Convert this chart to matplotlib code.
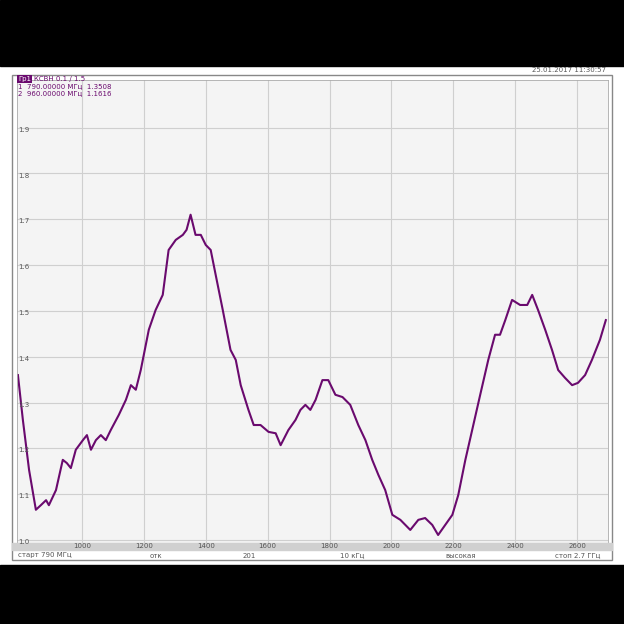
import matplotlib
matplotlib.use("Agg")
import matplotlib.pyplot as plt
from matplotlib.patches import Rectangle

freq = [793,809,829,851,867,884,893,916,938,951,964,980,1003,1016,1029,1045,1061,1077,1093,1119,1142,1158,1174,1190,1216,1238,1261,1280,1303,1326,1338,1351,1367,1384,1400,1416,1432,1455,1480,1497,1513,1538,1555,1577,1603,1626,1642,1667,1690,1706,1722,1738,1755,1777,1796,1819,1842,1867,1893,1916,1938,1958,1980,2003,2029,2061,2087,2109,2132,2151,2174,2197,2216,2239,2261,2287,2313,2335,2351,2368,2390,2416,2439,2455,2474,2497,2519,2539,2561,2584,2603,2626,2648,2674,2693]
vswr = [1.360,1.262,1.153,1.066,1.076,1.087,1.076,1.109,1.175,1.168,1.157,1.197,1.218,1.229,1.197,1.218,1.229,1.218,1.240,1.273,1.306,1.338,1.328,1.371,1.459,1.502,1.535,1.633,1.655,1.666,1.677,1.710,1.666,1.666,1.644,1.633,1.579,1.502,1.415,1.393,1.338,1.284,1.251,1.251,1.236,1.233,1.207,1.240,1.262,1.284,1.295,1.284,1.306,1.349,1.349,1.317,1.312,1.295,1.251,1.218,1.175,1.142,1.109,1.055,1.044,1.022,1.044,1.048,1.033,1.011,1.033,1.055,1.098,1.175,1.240,1.317,1.393,1.448,1.448,1.480,1.524,1.513,1.513,1.535,1.502,1.459,1.415,1.371,1.354,1.338,1.343,1.360,1.393,1.437,1.480]
yticks = [1.0,1.1,1.2,1.3,1.4,1.5,1.6,1.7,1.8,1.9]
xticks = [1000,1200,1400,1600,1800,2000,2200,2400,2600]
purple = "#6a0a6e"

fig = plt.figure(figsize=(6.24,6.24), dpi=100)
fig.patch.set_facecolor("white")
H = 624
def fy(p): return 1 - p/H
fig.patches.append(Rectangle((0, fy(66)), 1, 66/H, transform=fig.transFigure, color="black", zorder=0))
fig.patches.append(Rectangle((0, 0), 1, fy(565), transform=fig.transFigure, color="black", zorder=0))
fig.patches.append(Rectangle((12/H, fy(560)), 600/H, 485/H, transform=fig.transFigure, fill=False, ec="#888888", lw=1))
fig.patches.append(Rectangle((12/H, fy(550)), 600/H, 7/H, transform=fig.transFigure, color="#d0d0d0", zorder=1))

ax = fig.add_axes([17/H, fy(543), 591/H, 463/H])
ax.set_facecolor("#f4f4f4")
ax.plot(freq, vswr, color=purple, lw=1.5)
ax.set_xlim(790, 2700)
ax.set_ylim(0.9935, 2.004)
ax.set_xticks(xticks); ax.set_yticks(yticks)
ax.grid(True, color="#cfcfcf", lw=0.8)
ax.tick_params(length=0, labelbottom=False, labelleft=False)
for s in ax.spines.values(): s.set_color("#aaaaaa"); s.set_lw(0.6)

fs = 5
tc = "#555555"
for v in yticks:
    fig.text(18/H, fy(540 - (v-1)*458) - 0.008, f"{v:.1f}", fontsize=fs, color=tc, va="bottom")
for f in xticks:
    x = (17 + (f-790)*591/1910)/H
    fig.text(x, fy(546.5), str(f), fontsize=fs, color=tc, ha="center", va="center")
row = 555.5
fig.text(18/H, fy(row), "старт 790 МГц", fontsize=fs, color=tc, va="center")
fig.text(150/H, fy(row), "отк", fontsize=fs, color=tc, va="center")
fig.text(243/H, fy(row), "201", fontsize=fs, color=tc, va="center")
fig.text(340/H, fy(row), "10 кГц", fontsize=fs, color=tc, va="center")
fig.text(445/H, fy(row), "высокая", fontsize=fs, color=tc, va="center")
fig.text(555/H, fy(row), "стоп 2.7 ГГц", fontsize=fs, color=tc, va="center")
fig.text(606/H, fy(70), "25.01.2017 11:30:57", fontsize=fs, color=tc, ha="right", va="center")
fig.text(18/H, fy(79), "Гр1", fontsize=fs, color="white", va="center", bbox=dict(fc=purple, ec="none", pad=0.5))
fig.text(34/H, fy(79), "КСВН 0.1 / 1.5", fontsize=fs, color=purple, va="center")
fig.text(18/H, fy(86), "1  790.00000 МГц  1.3508", fontsize=fs, color=purple, va="center")
fig.text(18/H, fy(93), "2  960.00000 МГц  1.1616", fontsize=fs, color=purple, va="center")
fig.savefig("out.png", dpi=100)
